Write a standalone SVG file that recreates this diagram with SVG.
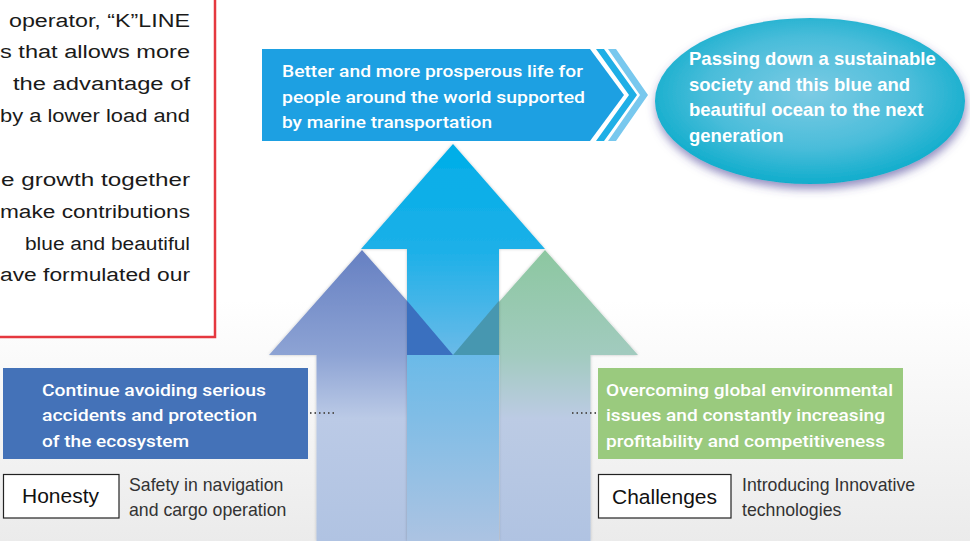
<svg xmlns="http://www.w3.org/2000/svg" width="970" height="541" viewBox="0 0 970 541">
<style>
.body{font-family:"Liberation Sans",Arial,sans-serif;font-size:18px;fill:#1a1a1a}
.med{font-family:Roboto,"Liberation Sans",Arial,sans-serif;font-weight:500;font-size:16.8px;fill:#ffffff}
.bold{font-family:"Liberation Sans",Arial,sans-serif;font-weight:bold;font-size:18.5px;fill:#ffffff}
.lbl{font-family:"Liberation Sans",Arial,sans-serif;font-size:20.5px;fill:#111}
.note{font-family:"Liberation Sans",Arial,sans-serif;font-size:17.7px;fill:#333}
.dots{stroke:#555;stroke-width:1.8;stroke-dasharray:1.5 3;fill:none}
.tag{fill:#fff;stroke:#222;stroke-width:1.2}
</style>
<defs>
<linearGradient id="bg" x1="0" y1="300" x2="0" y2="541" gradientUnits="userSpaceOnUse">
<stop offset="0" stop-color="#ffffff"/><stop offset="1" stop-color="#ebebeb"/>
</linearGradient>
<linearGradient id="gC" x1="0" y1="144" x2="0" y2="541" gradientUnits="userSpaceOnUse">
<stop offset="0" stop-color="#00aee8"/><stop offset="0.265" stop-color="#1cb0e8"/><stop offset="0.53" stop-color="#6abae8"/><stop offset="1" stop-color="#acc3e2"/>
</linearGradient>
<linearGradient id="gL" x1="0" y1="250" x2="0" y2="541" gradientUnits="userSpaceOnUse">
<stop offset="0" stop-color="#6680c2"/><stop offset="0.36" stop-color="#8da3d4"/><stop offset="0.58" stop-color="#bbcae6"/><stop offset="1" stop-color="#b0c3e2"/>
</linearGradient>
<linearGradient id="gR" x1="0" y1="250" x2="0" y2="541" gradientUnits="userSpaceOnUse">
<stop offset="0" stop-color="#8cc7a0"/><stop offset="0.36" stop-color="#a2cbbf"/><stop offset="0.58" stop-color="#bccbe4"/><stop offset="1" stop-color="#b0c3e2"/>
</linearGradient>
<radialGradient id="gE" cx="0.5" cy="0.45" r="0.55">
<stop offset="0" stop-color="#7ccbe4"/><stop offset="0.6" stop-color="#4bbdda"/><stop offset="1" stop-color="#10adcc"/>
</radialGradient>
<filter id="sh" x="-10%" y="-10%" width="120%" height="120%">
<feDropShadow dx="0" dy="0" stdDeviation="1.5" flood-color="#000" flood-opacity="0.22"/>
</filter>
<filter id="esh" x="-10%" y="-10%" width="120%" height="130%">
<feDropShadow dx="1" dy="5" stdDeviation="5" flood-color="#4a3f96" flood-opacity="0.6"/>
</filter>
</defs>

<rect width="970" height="541" fill="#fff"/>
<rect y="300" width="970" height="241" fill="url(#bg)"/>

<g id="intro-text">
<rect x="-5" y="-5" width="220" height="342" fill="#fff" stroke="#e5383f" stroke-width="2.5"/>
<text class="body" x="9" y="26.7" textLength="181" lengthAdjust="spacingAndGlyphs">operator, “K”LINE</text>
<text class="body" x="0" y="58.4" textLength="190" lengthAdjust="spacingAndGlyphs">s that allows more</text>
<text class="body" x="13" y="90.1" textLength="177" lengthAdjust="spacingAndGlyphs">the advantage of</text>
<text class="body" x="0" y="121.8" textLength="190" lengthAdjust="spacingAndGlyphs">by a lower load and</text>
<text class="body" x="1" y="186.3" textLength="189" lengthAdjust="spacingAndGlyphs">e growth together</text>
<text class="body" x="0" y="218" textLength="190" lengthAdjust="spacingAndGlyphs">make contributions</text>
<text class="body" x="25" y="249.7" textLength="165" lengthAdjust="spacingAndGlyphs">blue and beautiful</text>
<text class="body" x="0" y="281.4" textLength="190" lengthAdjust="spacingAndGlyphs">ave formulated our</text>
</g>

<g id="arrow-left" filter="url(#sh)">
<polygon points="362,250 455,355 407.5,355 407.5,541 316.5,541 316.5,355 269,355" fill="url(#gL)"/>
</g>
<g id="arrow-right" filter="url(#sh)">
<polygon points="545,250 638,355 590.5,355 590.5,541 499.5,541 499.5,355 452,355" fill="url(#gR)"/>
</g>
<g id="arrow-center" filter="url(#sh)">
<polygon points="453,144 545,249 499,249 499,541 407,541 407,249 361,249" fill="url(#gC)"/>
</g>
<g id="arrow-overlaps">
<polygon points="407,300.8 453,355 407,355" fill="#3a70bf"/>
<polygon points="499,300.8 453,355 499,355" fill="#4797b0"/>
</g>

<g id="banner">
<polygon points="262,49 590,49 624,95 590,141 262,141" fill="#1da0e2"/>
<polygon points="596,49 604,49 637,95 604,141 596,141 629,95" fill="#1eafe6"/>
<polygon points="608,49 616,49 648,95 616,141 608,141 640,95" fill="#78c8ee"/>
<text class="med" x="282" y="76.7" textLength="301" lengthAdjust="spacingAndGlyphs">Better and more prosperous life for</text>
<text class="med" x="282" y="102.7" textLength="303" lengthAdjust="spacingAndGlyphs">people around the world supported</text>
<text class="med" x="282" y="127.7" textLength="210" lengthAdjust="spacingAndGlyphs">by marine transportation</text>
</g>

<g id="goal-ellipse">
<ellipse cx="810" cy="101" rx="155" ry="83" fill="url(#gE)" filter="url(#esh)"/>
<text class="bold" x="689" y="65">Passing down a sustainable</text>
<text class="bold" x="689" y="90.5">society and this blue and</text>
<text class="bold" x="689" y="116">beautiful ocean to the next</text>
<text class="bold" x="689" y="141.5">generation</text>
</g>

<g id="safety-box">
<rect x="3" y="368" width="305" height="91" fill="#4472b8"/>
<text class="med" x="42" y="395.7" textLength="224" lengthAdjust="spacingAndGlyphs">Continue avoiding serious</text>
<text class="med" x="42" y="421" textLength="215" lengthAdjust="spacingAndGlyphs">accidents and protection</text>
<text class="med" x="42" y="446.7" textLength="147" lengthAdjust="spacingAndGlyphs">of the ecosystem</text>
</g>

<g id="environment-box">
<rect x="598" y="368" width="305" height="91" fill="#9aca7e"/>
<text class="med" x="606" y="395.7" textLength="287" lengthAdjust="spacingAndGlyphs">Overcoming global environmental</text>
<text class="med" x="606" y="421" textLength="279" lengthAdjust="spacingAndGlyphs">issues and constantly increasing</text>
<text class="med" x="606" y="446.7" textLength="279" lengthAdjust="spacingAndGlyphs">profitability and competitiveness</text>
</g>

<g id="honesty">
<rect class="tag" x="3.5" y="474.5" width="115.5" height="43.5"/>
<text class="lbl" x="22" y="502.7" textLength="77" lengthAdjust="spacingAndGlyphs">Honesty</text>
<text class="note" x="129" y="491">Safety in navigation</text>
<text class="note" x="129" y="516">and cargo operation</text>
</g>

<g id="challenges">
<rect class="tag" x="598.5" y="474.5" width="132.5" height="43.5"/>
<text class="lbl" x="612" y="504.3" textLength="105" lengthAdjust="spacingAndGlyphs">Challenges</text>
<text class="note" x="742" y="490.5">Introducing Innovative</text>
<text class="note" x="742" y="516">technologies</text>
</g>

<g id="connectors">
<line class="dots" x1="310" y1="413" x2="337" y2="413"/>
<line class="dots" x1="572" y1="413" x2="598" y2="413"/>
</g>
</svg>
